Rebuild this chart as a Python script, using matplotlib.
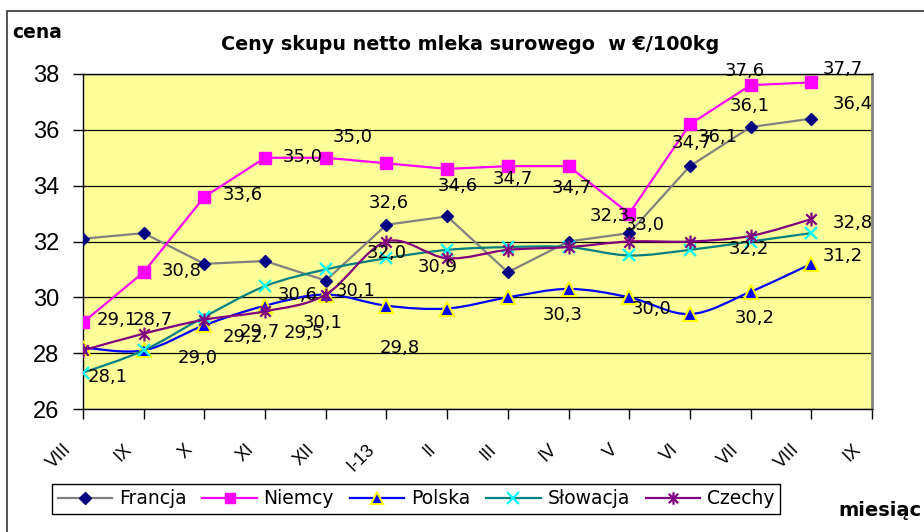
import numpy as np
import matplotlib
matplotlib.use('Agg')
import matplotlib.pyplot as plt
from matplotlib.path import Path
from matplotlib.patches import PathPatch, Rectangle
from matplotlib.lines import Line2D
import matplotlib.transforms as mtransforms

plt.rcParams['font.family'] = ['Liberation Sans', 'DejaVu Sans']
WIDE = ['DejaVu Sans']

# ---------------- data ----------------
months = ['VIII', 'IX', 'X', 'XI', 'XII', 'I-13', 'II', 'III', 'IV', 'V', 'VI', 'VII', 'VIII', 'IX']
francja = [32.1, 32.3, 31.2, 31.3, 30.6, 32.6, 32.9, 30.9, 32.0, 32.3, 34.7, 36.1, 36.4]
niemcy = [29.1, 30.9, 33.6, 35.0, 35.0, 34.8, 34.6, 34.7, 34.7, 33.0, 36.2, 37.6, 37.7]
polska = [28.2, 28.1, 29.0, 29.7, 30.1, 29.7, 29.6, 30.0, 30.3, 30.0, 29.4, 30.2, 31.2]
slowacja = [27.3, 28.1, 29.3, 30.4, 31.0, 31.4, 31.7, 31.8, 31.8, 31.5, 31.7, 32.0, 32.3]
czechy = [28.1, 28.7, 29.2, 29.5, 30.1, 32.0, 31.4, 31.7, 31.8, 32.0, 32.0, 32.2, 32.8]
series_names = ['Francja', 'Niemcy', 'Polska', 'Słowacja', 'Czechy']
y_ticks = [26, 28, 30, 32, 34, 36, 38]

# data labels as shown in the chart (text, category position, value position)
label_text = ['35,0', '35,0', '33,6', '32,6', '34,6', '34,7', '34,7', '37,6', '37,7',
              '36,1', '36,4', '34,7', '36,1', '32,3', '33,0', '32,8', '32,2', '31,2',
              '30,3', '30,0', '30,2', '30,8', '32,0', '30,9', '30,6', '30,1', '29,1',
              '28,7', '29,2', '29,7', '29,5', '30,1', '29,0', '29,8', '28,1']
label_x = [4.45, 3.62, 2.64, 5.03, 6.18, 7.09, 8.06, 10.91, 12.52,
           10.99, 12.69, 10.03, 10.46, 8.68, 9.26, 12.69, 10.97, 12.51,
           7.91, 9.36, 11.07, 1.63, 5.01, 5.85, 3.53, 4.50, 0.56,
           1.15, 2.64, 2.92, 3.64, 3.95, 1.89, 5.22, 0.41]
label_y = [35.74, 35.03, 33.67, 33.38, 33.99, 34.24, 33.92, 38.11, 38.18,
           36.85, 36.93, 35.53, 35.74, 32.91, 32.59, 32.66, 31.73, 31.48,
           29.37, 29.58, 29.26, 30.94, 31.59, 31.07, 30.08, 30.23, 29.19,
           29.19, 28.58, 28.76, 28.72, 29.08, 27.83, 28.19, 27.15]

# ---------------- figure ----------------
W, H = 924, 532
fig = plt.figure(figsize=(W / 100, H / 100), dpi=100)
fig.patch.set_facecolor('white')

# outer chart-area border (left & top visible)
fig.patches.append(Rectangle((7 / W, -0.1), 1.2, (H - 11) / H + 0.1, transform=fig.transFigure,
                             fill=False, edgecolor='#333333', linewidth=1.2))

ax = fig.add_axes([83 / W, (H - 409) / H, (872 - 83) / W, (409 - 74) / H])
ax.set_facecolor('#FFFF99')
ax.set_xlim(0, len(months) - 1)
ax.set_ylim(26, 38)

for yv in y_ticks:
    ax.axhline(yv, color='black', linewidth=0.9, zorder=1)

x = np.arange(len(francja))


def smooth_path(xs, ys):
    pts = np.column_stack([xs, ys])
    n = len(pts)
    verts = [pts[0]]
    codes = [Path.MOVETO]
    for i in range(n - 1):
        p0 = pts[i - 1] if i > 0 else pts[i]
        p1 = pts[i]
        p2 = pts[i + 1]
        p3 = pts[i + 2] if i + 2 < n else pts[i + 1]
        c1 = p1 + (p2 - p0) / 6.0
        c2 = p2 - (p3 - p1) / 6.0
        verts += [c1, c2, p2]
        codes += [Path.CURVE4] * 3
    return Path(verts, codes)


asterisk = Path([(0, -1), (0, 1), (-0.75, -0.75), (0.75, 0.75), (-0.75, 0.75), (0.75, -0.75)],
                [Path.MOVETO, Path.LINETO, Path.MOVETO, Path.LINETO, Path.MOVETO, Path.LINETO])

styles = {
    'Francja': dict(color='#808080', marker='D', ms=6.5, mfc='#000080', mec='#000080', mew=1, smooth=False),
    'Niemcy': dict(color='#FF00FF', marker='s', ms=8.5, mfc='#FF00FF', mec='#FF00FF', mew=1, smooth=False),
    'Polska': dict(color='#0000FF', marker='^', ms=10, mfc='#0000FF', mec='#FFFF00', mew=1.5, smooth=True),
    'Słowacja': dict(color='#008080', marker='x', ms=9, mfc='#00FFFF', mec='#00FFFF', mew=1.6, smooth=True),
    'Czechy': dict(color='#800080', marker=asterisk, ms=10, mfc='#800080', mec='#800080', mew=1.6, smooth=True),
}
data = {'Francja': francja, 'Niemcy': niemcy, 'Polska': polska, 'Słowacja': slowacja, 'Czechy': czechy}

handles = []
for k, name in enumerate(series_names):
    st = styles[name]
    vals = np.array(data[name])
    z = 3 + k
    if st['smooth']:
        ax.add_patch(PathPatch(smooth_path(x, vals), facecolor='none', edgecolor=st['color'],
                               linewidth=1.6, zorder=z))
    else:
        ax.plot(x, vals, color=st['color'], linewidth=1.6, zorder=z)
    ax.plot(x, vals, linestyle='none', marker=st['marker'], markersize=st['ms'],
            markerfacecolor=st['mfc'], markeredgecolor=st['mec'], markeredgewidth=st['mew'],
            zorder=z + 0.5)
    handles.append(Line2D([], [], color=st['color'], linewidth=1.6, marker=st['marker'],
                          markersize=st['ms'] * 0.9, markerfacecolor=st['mfc'],
                          markeredgecolor=st['mec'], markeredgewidth=st['mew']))

for t, lx, ly in zip(label_text, label_x, label_y):
    ax.text(lx, ly, t, ha='center', va='center', fontsize=13, color='black', zorder=20,
            clip_on=False, family=WIDE)

# axes styling
ax.set_yticks(y_ticks)
ax.set_yticklabels([str(v) for v in y_ticks], fontsize=17)
ax.set_xticks(np.arange(len(months)))
ax.set_xticklabels(months, fontsize=13, rotation=45, ha='right', va='top')
ax.tick_params(axis='y', direction='out', length=7, width=1, pad=10)
ax.tick_params(axis='x', direction='out', length=7, width=1, pad=16)
offset = mtransforms.ScaledTranslation(-8 / 100, 0, fig.dpi_scale_trans)
for lab in ax.get_xticklabels():
    lab.set_transform(lab.get_transform() + offset)

for s in ['left', 'bottom', 'top']:
    ax.spines[s].set_color('black')
    ax.spines[s].set_linewidth(1.0)
ax.spines['right'].set_color('#808080')
ax.spines['right'].set_linewidth(2)

# texts
fig.text(470 / W, 1 - 45 / H, 'Ceny skupu netto mleka surowego  w €/100kg', ha='center', va='center',
         fontsize=13.8, fontweight='bold', family=WIDE)
fig.text(12 / W, 1 - 32 / H, 'cena', ha='left', va='center', fontsize=13.5, fontweight='bold',
         family=WIDE)
fig.text(838 / W, 1 - 510 / H, 'miesiąc', ha='left', va='center', fontsize=14, fontweight='bold',
         family=WIDE)

leg = fig.legend(handles, series_names, loc='lower left', bbox_to_anchor=(52 / W, 18 / H), ncol=5,
                 prop={'family': WIDE, 'size': 13.5}, frameon=True, fancybox=False,
                 edgecolor='black', framealpha=1,
                 handlelength=2.9, handletextpad=0.36, columnspacing=0.85, borderpad=0.3,
                 borderaxespad=0)
leg.get_frame().set_linewidth(1.0)

fig.savefig('out.png', dpi=100, facecolor='white')
